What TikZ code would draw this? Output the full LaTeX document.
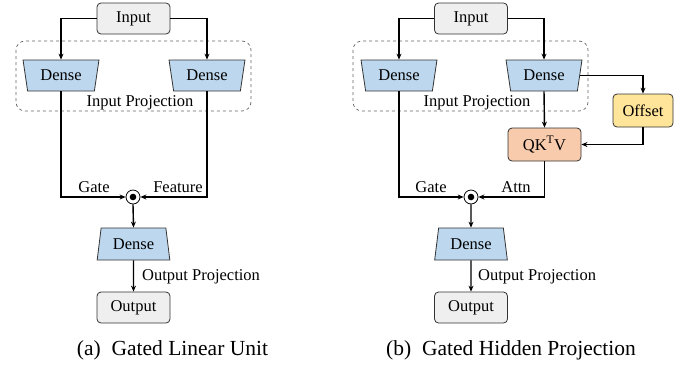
\documentclass[tikz,border=0pt]{standalone}
\usepackage{fontspec}
\setmainfont{Liberation Serif}
\usetikzlibrary{shapes.geometric,arrows.meta}
\definecolor{densec}{HTML}{BDD7EE}
\definecolor{ioc}{HTML}{EFEFEF}
\definecolor{offc}{HTML}{FFE599}
\definecolor{qkc}{HTML}{F8CBAD}
\definecolor{edgec}{HTML}{333333}
\tikzset{
  txt/.style={font=\fontsize{16.5}{18}\selectfont},
  iobox/.style={txt, draw=edgec, fill=ioc, rounded corners=4pt, minimum width=73pt, minimum height=31pt, inner sep=0pt, line width=0.8pt},
  colbox/.style={txt, draw=edgec, rounded corners=4pt, minimum height=33pt, inner sep=0pt, line width=0.8pt},
  densein/.style={txt, draw=edgec, fill=densec, trapezium, shape border rotate=180, trapezium angle=75.5, trapezium stretches=true, minimum width=76pt, minimum height=31pt, inner sep=0pt, line width=0.8pt},
  denseout/.style={txt, draw=edgec, fill=densec, trapezium, trapezium angle=77, trapezium stretches=true, minimum width=73pt, minimum height=32pt, inner sep=0pt, line width=0.8pt},
  odot/.style={circle, draw=black, fill=white, minimum size=14pt, inner sep=0pt, line width=0.8pt},
  conn/.style={line width=1.4pt, -{Stealth[length=6pt,width=5pt]}},
  projbox/.style={draw=gray!80!black, dashed, rounded corners=9pt, line width=0.7pt},
  lab/.style={txt, inner sep=0pt},
  captext/.style={font=\fontsize{21.5}{24}\selectfont, inner sep=0pt}
}
\begin{document}
\begin{tikzpicture}[x=1pt,y=-1pt]
\useasboundingbox (0,0) rectangle (692,368);
% ---------- (a) ----------
\draw[projbox] (16,41) rectangle (251,111);
\node[iobox] (in1) at (133.5,18.5) {Input};
\node[densein] (d1) at (61,75.5) {Dense};
\node[densein] (d2) at (207,75.5) {Dense};
\node[lab] (ip1) at (140,103) {Input Projection};
\node[odot] (c1) at (133,197) {};
\fill (c1.center) circle (3.3pt);
\node[denseout] (d3) at (133.5,244) {Dense};
\node[iobox] (out1) at (133.5,307.5) {Output};
\draw[conn] (in1.west) -| (d1.north);
\draw[conn] (in1.east) -| (d2.north);
\draw[conn] (d1.south) |- (c1.west);
\draw[conn] (d2.south) |- (c1.east);
\draw[conn] (c1.south) -- (d3.north);
\draw[conn] (d3.south) -- (out1.north);
\node[lab] (g1) at (94,187) {Gate};
\node[lab] (f1) at (178,187) {Feature};
\node[lab, anchor=west] (op1) at (142,277) {Output Projection};
\node[captext] (cap1) at (172.5,350) {(a)\ \ Gated Linear Unit};
% ---------- (b) ----------
\draw[projbox] (353,41) rectangle (588,111);
\node[iobox] (in2) at (471,18.5) {Input};
\node[densein] (d4) at (399,75.5) {Dense};
\node[densein] (d5) at (544,75.5) {Dense};
\node[lab] (ip2) at (477,103) {Input Projection};
\node[colbox, fill=offc, minimum width=60pt] (off) at (643,110.5) {Offset};
\node[colbox, fill=qkc, minimum width=73pt] (qk) at (544.5,144.5) {QK\textsuperscript{T}V};
\node[odot] (c2) at (471,197) {};
\fill (c2.center) circle (3.3pt);
\node[denseout] (d6) at (471,244) {Dense};
\node[iobox] (out2) at (471,307.5) {Output};
\draw[conn] (in2.west) -| (d4.north);
\draw[conn] (in2.east) -| (d5.north);
\draw[conn] (d5.east) -| (off.north);
\draw[conn] (d5.south) -- (qk.north);
\draw[conn] (off.south) |- (qk.east);
\draw[conn] (d4.south) |- (c2.west);
\draw[conn] (qk.south) |- (c2.east);
\draw[conn] (c2.south) -- (d6.north);
\draw[conn] (d6.south) -- (out2.north);
\node[lab] (g2) at (431,187) {Gate};
\node[lab] (a2) at (516,187) {Attn};
\node[lab, anchor=west] (op2) at (478,277) {Output Projection};
\node[captext] (cap2) at (511,350) {(b)\ \ Gated Hidden Projection};
\end{tikzpicture}
\end{document}
